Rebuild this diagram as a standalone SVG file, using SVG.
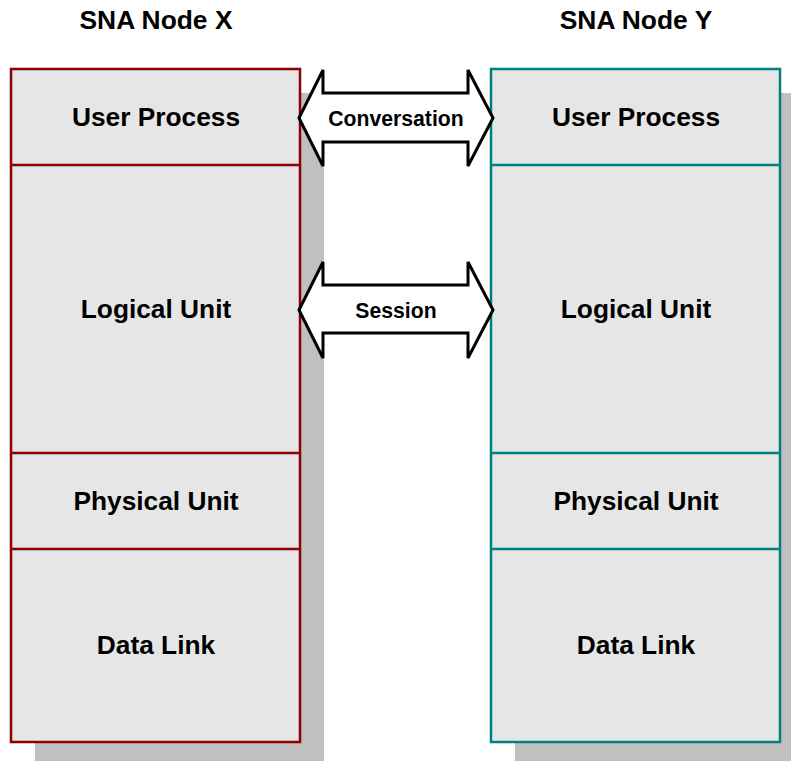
<svg xmlns="http://www.w3.org/2000/svg" width="791" height="761" viewBox="0 0 791 761">
<style>
.shadow{fill:#C0C0C0}
.layer{fill:#E6E6E6}
.x{stroke:#8B0000;stroke-width:2.5;fill:none}
.y{stroke:#008080;stroke-width:2.5;fill:none}
.t{font-family:"Liberation Sans",Arial,sans-serif;font-weight:bold;fill:#000;text-anchor:middle;dominant-baseline:central}
.title{font-size:26.4px}
.lbl{font-size:26.3px}
.arr{fill:#fff;stroke:#000;stroke-width:3;stroke-linejoin:miter}
.al{font-size:21.2px}
</style>
<rect width="791" height="761" fill="#fff"/>
<g id="nodeX">
<text class="t title" x="156" y="20">SNA Node X</text>
<rect class="shadow" x="35" y="93" width="289" height="668"/>
<rect class="layer" x="11" y="69" width="289" height="673"/>
<rect class="x" x="11" y="69" width="289" height="673"/>
<line class="x" x1="11" y1="165" x2="300" y2="165"/>
<line class="x" x1="11" y1="453" x2="300" y2="453"/>
<line class="x" x1="11" y1="549" x2="300" y2="549"/>
<text class="t lbl" x="156" y="117">User Process</text>
<text class="t lbl" x="156" y="309">Logical Unit</text>
<text class="t lbl" x="156" y="501">Physical Unit</text>
<text class="t lbl" x="156" y="645">Data Link</text>
</g>
<g id="nodeY">
<text class="t title" x="636" y="20">SNA Node Y</text>
<rect class="shadow" x="515" y="93" width="289" height="668"/>
<rect class="layer" x="491" y="69" width="289" height="673"/>
<rect class="y" x="491" y="69" width="289" height="673"/>
<line class="y" x1="491" y1="165" x2="780" y2="165"/>
<line class="y" x1="491" y1="453" x2="780" y2="453"/>
<line class="y" x1="491" y1="549" x2="780" y2="549"/>
<text class="t lbl" x="636" y="117">User Process</text>
<text class="t lbl" x="636" y="309">Logical Unit</text>
<text class="t lbl" x="636" y="501">Physical Unit</text>
<text class="t lbl" x="636" y="645">Data Link</text>
</g>
<g id="connectors">
<path class="arr" d="M299,118 L323,70 L323,93 L468,93 L468,70 L493,118 L468,166 L468,142 L323,142 L323,166 Z"/>
<text class="t al" x="396" y="118">Conversation</text>
<path class="arr" d="M299,310 L323,262 L323,285 L468,285 L468,262 L493,310 L468,358 L468,333 L323,333 L323,358 Z"/>
<text class="t al" x="396" y="310">Session</text>
</g>
</svg>
